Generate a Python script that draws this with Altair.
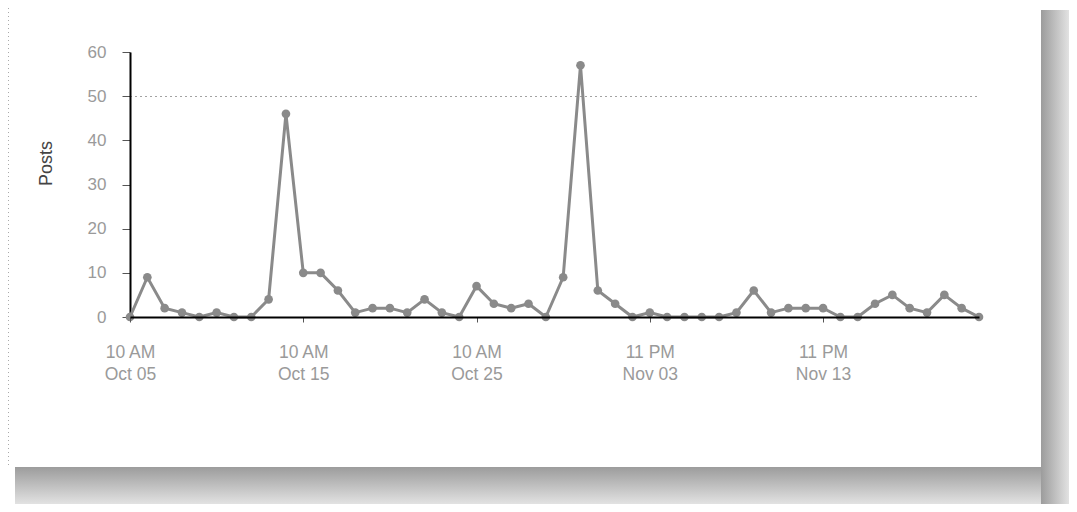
import json
import altair as alt
import pandas as pd

# ---- data ----
dates = [d.strftime("%Y-%m-%dT%H:%M:%SZ")
         for d in pd.date_range("2011-10-05 10:00", periods=50, freq="D")]
posts = [0, 9, 2, 1, 0, 1, 0, 0, 4, 46,
         10, 10, 6, 1, 2, 2, 1, 4, 1, 0,
         7, 3, 2, 3, 0, 9, 57, 6, 3, 0,
         1, 0, 0, 0, 0, 1, 6, 1, 2, 2,
         2, 0, 0, 3, 5, 2, 1, 5, 2, 0]
tick_days = [0, 10, 20, 30, 40]
tick_time = ["10 AM", "10 AM", "10 AM", "11 PM", "11 PM"]
tick_date = ["Oct 05", "Oct 15", "Oct 25", "Nov 03", "Nov 13"]
y_ticks = [0, 10, 20, 30, 40, 50, 60]
highlight_grid = 50

df = pd.DataFrame({"time": dates, "posts": posts})

DAY = 86400000
t0 = int(pd.Timestamp(dates[0]).value // 10**6)
t_end = int(pd.Timestamp(dates[-1]).value // 10**6)
tick_vals = [t0 + d * DAY for d in tick_days]
label_arr = json.dumps([[a, b] for a, b in zip(tick_time, tick_date)])
label_expr = f"{label_arr}[round((datum.value - {t0}) / {10 * DAY})]"

W, H = 849, 265
PAD = {"left": 122, "top": 44, "right": 90, "bottom": 187}

LINE_GRAY = "#8a8a8a"
FONT = "Liberation Sans"

x_enc = alt.X(
    "time:T",
    scale=alt.Scale(type="utc", domain=[t0, t_end], nice=False),
    axis=alt.Axis(
        values=tick_vals, labelExpr=label_expr, title=None,
        labelFontSize=17.5, labelColor="#9a9a9a", labelLineHeight=22,
        labelPadding=21, tickSize=5, tickColor="#555", labelFlush=False,
        labelAlign="center",
        domainColor="#000", domainWidth=2, grid=False, zindex=1,
        labelFont=FONT,
    ),
)
y_enc = alt.Y(
    "posts:Q",
    scale=alt.Scale(domain=[0, 60], nice=False),
    axis=alt.Axis(
        values=y_ticks, title="Posts", titleFontSize=18, titleColor="#444",
        titleFontWeight="normal", titleFont=FONT, titleX=-75, titleY=111,
        titleAngle=-90, titleAlign="center",
        labelFontSize=17, labelColor="#9a9a9a", labelPadding=16, labelFont=FONT,
        tickSize=8, tickColor="#555", domainColor="#000", domainWidth=2,
        grid=True, gridColor="#444", gridDash=[1, 4], gridWidth=1,
        gridOpacity={"condition": {"test": f"datum.value === {highlight_grid}", "value": 1}, "value": 0},
    ),
)

base = alt.Chart(df).encode(x=x_enc, y=y_enc)
line = base.mark_line(color=LINE_GRAY, strokeWidth=3)
pts = base.mark_point(filled=True, size=75, color=LINE_GRAY, opacity=1, shape="circle")

# ---- decorative frame + drop shadow (around the whole chart) ----
deco = alt.Data(values=[{}])
shadow_right = alt.Chart(deco).mark_rect(
    color=alt.Gradient(gradient="linear", x1=0, x2=1, y1=0, y2=0,
                       stops=[alt.GradientStop(color="#9c9c9c", offset=0),
                              alt.GradientStop(color="#e2e2e2", offset=1)])
).encode(x=alt.value(911), x2=alt.value(939), y=alt.value(-42), y2=alt.value(452))
shadow_bottom = alt.Chart(deco).mark_rect(
    color=alt.Gradient(gradient="linear", x1=0, x2=0, y1=0, y2=1,
                       stops=[alt.GradientStop(color="#9c9c9c", offset=0),
                              alt.GradientStop(color="#e2e2e2", offset=1)])
).encode(x=alt.value(-115), x2=alt.value(911), y=alt.value(415), y2=alt.value(452))
frame_left = alt.Chart(deco).mark_rule(color="#aaaaaa", strokeDash=[1, 3], strokeWidth=1).encode(
    x=alt.value(-121.5), y=alt.value(-44), y2=alt.value(413))

chart = alt.layer(shadow_right, shadow_bottom, frame_left, line, pts).properties(
    width=W, height=H,
    autosize=alt.AutoSizeParams(type="none"),
    padding=PAD,
    background="white",
).configure_view(stroke=None)

chart.save("out.html", embed_options={"renderer": "svg", "actions": False})
